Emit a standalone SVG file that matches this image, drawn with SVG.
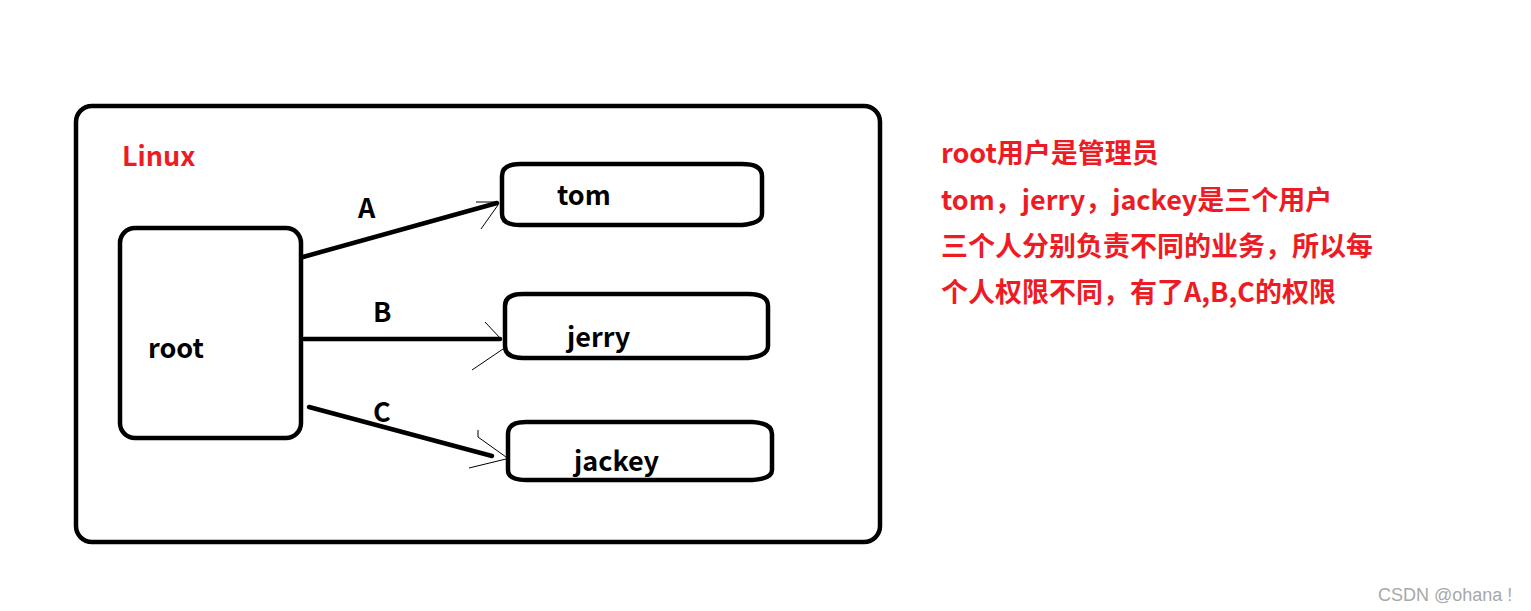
<svg xmlns="http://www.w3.org/2000/svg" width="1531" height="611" viewBox="0 0 1531 611">
<style>
.box{fill:none;stroke:#000;stroke-width:4.5}
.conn{stroke:#000;stroke-width:4.5;stroke-linecap:round;fill:none}
.head{stroke:#000;stroke-width:1;fill:none}
.lbl{font-family:"Noto Sans CJK SC","Open Sans",sans-serif;font-weight:bold;font-size:27px;fill:#000}
.red{font-family:"Noto Sans CJK SC","Open Sans",sans-serif;font-weight:bold;font-size:27px;fill:#ed1c24}
.wm{font-family:"Liberation Sans",Arial,sans-serif;font-size:18px;fill:#a8a8a8}
</style>
<rect width="1531" height="611" fill="#fff"/>
<g id="linux">
<rect class="box" x="76" y="106" width="804" height="436" rx="16"/>
<text class="red" x="122" y="166" font-size="28">Linux</text>
</g>
<g id="root">
<rect class="box" x="120" y="228" width="181" height="210" rx="15"/>
<text class="lbl" x="148" y="358">root</text>
</g>
<g id="tom">
<path class="box" d="M502,176 Q502,164 520,164 L742,164 Q762,164 762,176 L762,214 Q762,223 742,225 L520,225 Q502,225 502,214 Z"/>
<text class="lbl" x="557" y="205">tom</text>
</g>
<g id="jerry">
<path class="box" d="M505,306 Q505,294 523,294 L748,294 Q768,294 768,306 L768,346 Q768,356 748,358 L523,358 Q505,358 505,346 Z"/>
<text class="lbl" x="567" y="347">jerry</text>
</g>
<g id="jackey">
<path class="box" d="M508,434 Q508,422 526,422 L752,422 Q772,423 772,434 L772,470 Q772,479 752,480 L526,480 Q508,480 508,470 Z"/>
<text class="lbl" x="574" y="471">jackey</text>
</g>
<g id="connectors">
<line class="conn" x1="303" y1="257" x2="497" y2="203"/>
<path class="head" d="M476,202 L497,202 M498,205 L481,229"/>
<line class="conn" x1="304" y1="339" x2="500" y2="339"/>
<path class="head" d="M485,322 L501,339 M503,349 L472,370"/>
<line class="conn" x1="309" y1="407" x2="492" y2="456"/>
<path class="head" d="M478,430 L478,437 L506,457 M506,459 L469,468"/>
<text class="lbl" x="358" y="218">A</text>
<text class="lbl" x="373" y="322">B</text>
<text class="lbl" x="373" y="422">C</text>
</g>
<g id="notes">
<text class="red" x="941" y="163">root用户是管理员</text>
<text class="red" x="941" y="210">tom，jerry，jackey是三个用户</text>
<text class="red" x="941" y="256">三个人分别负责不同的业务，所以每</text>
<text class="red" x="941" y="302">个人权限不同，有了A,B,C的权限</text>
</g>
<text class="wm" x="1378" y="601">CSDN @ohana !</text>
</svg>
